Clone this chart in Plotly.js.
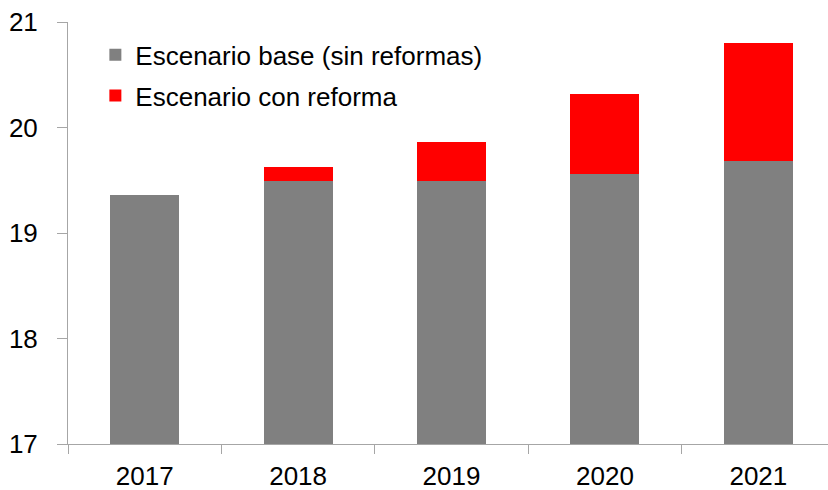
<!DOCTYPE html>
<html>
<head>
<meta charset="utf-8">
<script src="https://cdn.plot.ly/plotly-3.0.1.min.js"></script>
<style>
  html, body { margin: 0; padding: 0; background: #fff; overflow: hidden; }
  #chart { width: 828px; height: 490px; }
</style>
</head>
<body>
<div id="chart"></div>
<script>
const years = ['2017', '2018', '2019', '2020', '2021'];
const baseScenario = [19.36, 19.49, 19.49, 19.56, 19.68];
const reformIncrement = [0.0, 0.14, 0.37, 0.76, 1.12];
const yTicks = [17, 18, 19, 20, 21];
const seriesNames = ['Escenario base (sin reformas)', 'Escenario con reforma'];

const axisColor = '#a6a6a6';
const font = { family: 'Liberation Sans, Arial, sans-serif', size: 26, color: '#000' };

const traces = [
  {
    type: 'bar', x: years, y: baseScenario, name: seriesNames[0], legendgroup: 'a',
    marker: { color: '#808080', line: { width: 0 } }, width: 0.45
  },
  {
    type: 'bar', x: years, y: reformIncrement, name: seriesNames[1], legendgroup: 'b',
    marker: { color: '#ff0000', line: { width: 0 } }, width: 0.45
  }
];

const layout = {
  width: 828, height: 490,
  margin: { l: 68, r: 0, t: 22, b: 46, pad: 0 },
  paper_bgcolor: '#fff', plot_bgcolor: '#fff',
  barmode: 'stack',
  font: font,
  showlegend: true,
  legend: {
    x: 0.036, y: 0.978, xanchor: 'left', yanchor: 'top',
    traceorder: 'grouped', tracegroupgap: 4, font: font, bgcolor: 'rgba(0,0,0,0)',
    itemwidth: 30
  },
  xaxis: {
    type: 'category', range: [-0.5, 4.454],
    showline: true, linecolor: axisColor, linewidth: 1,
    ticks: 'outside', tickson: 'boundaries', ticklen: 9, tickcolor: axisColor,
    showgrid: false, zeroline: false, tickfont: font, ticklabelstandoff: 9
  },
  yaxis: {
    range: [17, 21], tickvals: yTicks, ticktext: yTicks.map(String),
    showline: true, linecolor: axisColor, linewidth: 1,
    ticks: 'outside', ticklen: 10, tickcolor: axisColor,
    showgrid: false, zeroline: false, tickfont: font, ticklabelstandoff: 14
  }
};

Plotly.newPlot('chart', traces, layout, { displayModeBar: false, staticPlot: true });
</script>
</body>
</html>
